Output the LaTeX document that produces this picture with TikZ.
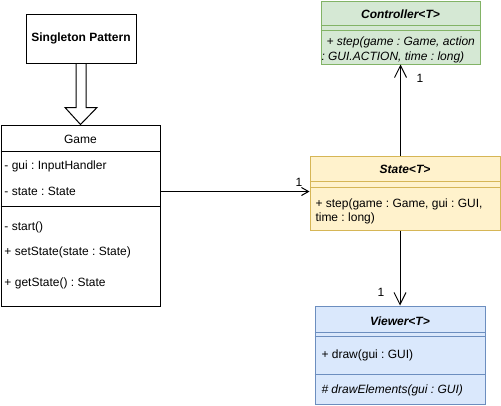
\documentclass[tikz,border=0pt]{standalone}
\usepackage{fontspec}
\setmainfont{Liberation Sans}
\frenchspacing
\usetikzlibrary{arrows.meta,calc}
\definecolor{gfill}{HTML}{D5E8D4}\definecolor{gline}{HTML}{82B366}
\definecolor{yfill}{HTML}{FFF2CC}\definecolor{yline}{HTML}{D6B656}
\definecolor{bfill}{HTML}{DAE8FC}\definecolor{bline}{HTML}{6C8EBF}
\begin{document}
\frenchspacing
\begin{tikzpicture}[x=1pt,y=-1pt, line width=1pt, font=\fontsize{12}{14}\selectfont,
  box/.style={draw, rectangle, inner sep=0},
  txt/.style={anchor=west, inner sep=0},
  ttl/.style={inner sep=0, font=\fontsize{12}{14}\selectfont\bfseries\itshape},
  assoc/.style={-{Straight Barb[length=12pt,width=12pt]}},
  mult/.style={inner sep=0, font=\fontsize{12}{14}\selectfont}
]
\useasboundingbox (0,0) rectangle (501,405);

% Singleton
\node[box, minimum width=110, minimum height=49, font=\fontsize{12}{14}\selectfont\bfseries] (sing) at (81,38.5) {Singleton Pattern};

% Game
\node[box, fill=white, minimum width=159, minimum height=181] (game) at (80.5,215.5) {};
\node[inner sep=0] (gt) at (80.5,139) {Game};
\draw ($(game.north west)+(0,27)$) -- ($(game.north east)+(0,27)$);
\draw ($(game.north west)+(0,82)$) -- ($(game.north east)+(0,82)$);
\node[txt] (g1) at (4,166) {- gui : InputHandler};
\node[txt] (g2) at (4,191) {- state : State};
\node[txt] (g3) at (4,227) {- start()};
\node[txt] (g4) at (4,252) {+ setState(state : State)};
\node[txt] (g5) at (4,283) {+ getState() : State};

% Hollow arrow (singleton -> game)
\draw ($(sing.south)+(-5,0)$) -- ($(sing.south)+(-5,44)$) -- ($(sing.south)+(-16,44)$)
  -- (game.north) -- ($(sing.south)+(16,44)$) -- ($(sing.south)+(5,44)$) -- ($(sing.south)+(5,0)$);

% Controller
\node[box, draw=gline, fill=gfill, minimum width=159, minimum height=63] (ctrl) at (400.5,32.5) {};
\node[ttl] (ct) at (400.5,14) {Controller<T>};
\draw[gline] ($(ctrl.north west)+(0,25)$) -- ($(ctrl.north east)+(0,25)$);
\draw[gline] ($(ctrl.north west)+(0,29.5)$) -- ($(ctrl.north east)+(0,29.5)$);
\node[txt, font=\fontsize{12}{14}\selectfont\itshape] (c1) at (326,42) {+ step(game : Game, action};
\node[txt, font=\fontsize{12}{14}\selectfont\itshape] (c2) at (321,57) {: GUI.ACTION, time : long)};

% State
\node[box, draw=yline, fill=yfill, minimum width=190, minimum height=74] (state) at (405,193) {};
\node[ttl] (st) at (405,169) {State<T>};
\draw[yline] ($(state.north west)+(0,26)$) -- ($(state.north east)+(0,26)$);
\draw[yline] ($(state.north west)+(0,31.5)$) -- ($(state.north east)+(0,31.5)$);
\node[txt] (s1) at (315,204) {+ step(game : Game, gui : GUI,};
\node[txt] (s2) at (315,218) {time : long)};

% Viewer
\node[box, draw=bline, fill=bfill, minimum width=170, minimum height=98] (viewer) at (400,355) {};
\node[ttl] (vt) at (400,321) {Viewer<T>};
\draw[bline] ($(viewer.north west)+(0,27)$) -- ($(viewer.north east)+(0,27)$);
\draw[bline] ($(viewer.north west)+(0,31)$) -- ($(viewer.north east)+(0,31)$);
\draw[bline] ($(viewer.north west)+(0,69)$) -- ($(viewer.north east)+(0,69)$);
\node[txt] (v1) at (321,355) {+ draw(gui : GUI)};
\node[txt, font=\fontsize{12}{14}\selectfont\itshape] (v2) at (321,390) {\# drawElements(gui : GUI)};

% Associations
\coordinate (ga) at ($(game.north east)+(0,67)$);
\draw[-{Straight Barb[length=7pt,width=8pt]}] (ga) -- (ga -| state.west);
\node[mult] (m1) at (299,182) {1};
\draw[assoc] (state.north -| ctrl.south) -- (ctrl.south);
\node[mult] (m2) at (420,78) {1};
\draw[assoc] (state.south -| viewer.north) -- (viewer.north);
\node[mult] (m3) at (381,292) {1};
\end{tikzpicture}
\end{document}
